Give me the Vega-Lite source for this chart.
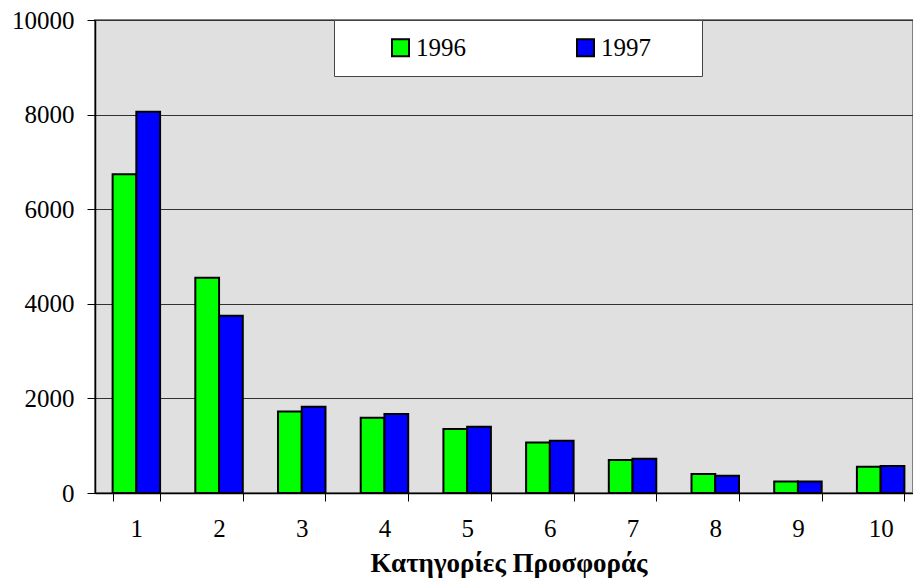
{
  "$schema": "https://vega.github.io/schema/vega-lite/v6.json",
  "width": 818,
  "height": 473,
  "autosize": {"type": "none"},
  "padding": {"left": 95, "top": 20, "right": 0, "bottom": 87},
  "background": "white",
  "data": {
    "values": [
      {"cat": "1", "year": "1996", "value": 6740},
      {"cat": "1", "year": "1997", "value": 8060},
      {"cat": "2", "year": "1996", "value": 4552},
      {"cat": "2", "year": "1997", "value": 3748},
      {"cat": "3", "year": "1996", "value": 1725},
      {"cat": "3", "year": "1997", "value": 1825},
      {"cat": "4", "year": "1996", "value": 1590},
      {"cat": "4", "year": "1997", "value": 1670},
      {"cat": "5", "year": "1996", "value": 1355},
      {"cat": "5", "year": "1997", "value": 1402},
      {"cat": "6", "year": "1996", "value": 1070},
      {"cat": "6", "year": "1997", "value": 1106},
      {"cat": "7", "year": "1996", "value": 698},
      {"cat": "7", "year": "1997", "value": 725},
      {"cat": "8", "year": "1996", "value": 402},
      {"cat": "8", "year": "1997", "value": 366},
      {"cat": "9", "year": "1996", "value": 245},
      {"cat": "9", "year": "1997", "value": 242},
      {"cat": "10", "year": "1996", "value": 556},
      {"cat": "10", "year": "1997", "value": 571}
    ]
  },
  "mark": {"type": "bar", "stroke": "black", "strokeWidth": 2},
  "encoding": {
    "x": {
      "field": "cat",
      "type": "ordinal",
      "sort": null,
      "scale": {"rangeMax": 827, "paddingInner": 0.426, "paddingOuter": 0.213},
      "axis": {
        "title": "Κατηγορίες Προσφοράς",
        "titleFont": "Liberation Serif",
        "titleFontSize": 27,
        "titleFontWeight": "bold",
        "titleColor": "black",
        "titlePadding": 9,
        "labelFont": "Liberation Serif",
        "labelFontSize": 25,
        "labelColor": "black",
        "labelAngle": 0,
        "labelPadding": 15,
        "tickBand": "extent",
        "tickSize": 8,
        "tickColor": "black",
        "domainColor": "black",
        "domainWidth": 1.5,
        "grid": false
      }
    },
    "xOffset": {"field": "year", "type": "nominal", "scale": {"paddingInner": 0, "paddingOuter": 0}},
    "y": {
      "field": "value",
      "type": "quantitative",
      "scale": {"domain": [0, 10000], "nice": false},
      "axis": {
        "title": null,
        "format": "d",
        "values": [0, 2000, 4000, 6000, 8000, 10000],
        "labelFont": "Liberation Serif",
        "labelFontSize": 25,
        "labelColor": "black",
        "labelPadding": 13,
        "tickSize": 8,
        "tickColor": "black",
        "domainColor": "black",
        "domainWidth": 1.5,
        "gridColor": "#333333",
        "gridWidth": 1
      }
    },
    "color": {
      "field": "year",
      "type": "nominal",
      "scale": {"domain": ["1996", "1997"], "range": ["#00FF00", "#0000FF"]},
      "legend": {
        "title": null,
        "orient": "none",
        "legendX": 239,
        "legendY": 0,
        "direction": "horizontal",
        "columns": 2,
        "padding": 15,
        "fillColor": "white",
        "strokeColor": "#444444",
        "symbolType": "square",
        "symbolSize": 289,
        "symbolStrokeColor": "black",
        "symbolStrokeWidth": 2,
        "symbolOpacity": 1,
        "symbolOffset": 39,
        "labelOffset": 3,
        "labelFont": "Liberation Serif",
        "labelFontSize": 25,
        "labelColor": "black",
        "labelExpr": "datum.label == '1997' ? datum.label + '\u2800\u2800' : datum.label",
        "columnPadding": 68
      }
    }
  },
  "config": {
    "view": {"fill": "#E0E0E0", "stroke": "#808080", "strokeWidth": 2},
    "axis": {"gridOpacity": 1}
  }
}
